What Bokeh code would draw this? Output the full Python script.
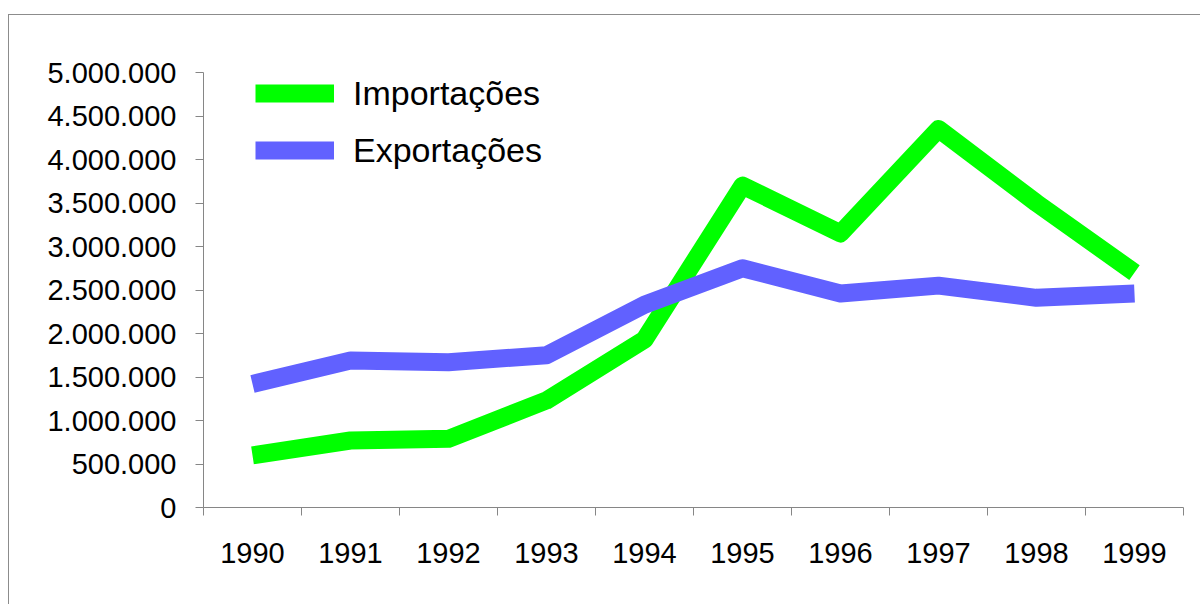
from bokeh.plotting import figure
from bokeh.models import (FactorRange, LinearAxis, FixedTicker, CustomJSTickFormatter,
                          Legend, LegendItem, Range1d)
from bokeh.embed import file_html
from bokeh.resources import INLINE

years = ["1990", "1991", "1992", "1993", "1994", "1995", "1996", "1997", "1998", "1999"]
importacoes = [600000, 770000, 790000, 1230000, 1930000, 3700000, 3150000, 4350000, 3500000, 2700000]
exportacoes = [1420000, 1690000, 1670000, 1750000, 2330000, 2750000, 2460000, 2550000, 2410000, 2460000]
y_ticks = [0, 500000, 1000000, 1500000, 2000000, 2500000, 3000000, 3500000, 4000000, 4500000, 5000000]

FONT = "Liberation Sans"
AXIS_COLOR = "#868686"

p = figure(width=1192, height=590, output_backend="svg", toolbar_location=None,
           x_range=FactorRange(*years, range_padding=0, factor_padding=0),
           y_range=Range1d(0, 5000000),
           x_axis_location=None, y_axis_location=None,
           min_border_left=194, min_border_right=18, min_border_top=57, min_border_bottom=98)
p.outline_line_color = None
p.xgrid.visible = False
p.ygrid.visible = False
p.background_fill_color = "white"
p.border_fill_color = "white"
# chart border: top and left edges visible, the rest runs off the window
p.styles = {"border-top": "1px solid #8c8c8c", "border-left": "1px solid #8c8c8c",
            "margin-left": "8px", "margin-top": "14px"}

# y axis
yax = LinearAxis(ticker=FixedTicker(ticks=y_ticks, minor_ticks=[]),
                 formatter=CustomJSTickFormatter(code="""
                     return Math.round(tick).toString().replace(/\\B(?=(\\d{3})+(?!\\d))/g, ".");
                 """))
yax.axis_line_color = AXIS_COLOR
yax.major_tick_line_color = AXIS_COLOR
yax.major_tick_in = 0
yax.major_tick_out = 8
yax.minor_tick_line_color = None
yax.major_label_standoff = 19
yax.major_label_text_font = FONT
yax.major_label_text_font_size = "29px"
yax.major_label_text_color = "black"
p.add_layout(yax, "left")

# x axis: labels at category centres, ticks at category boundaries
centers = [i + 0.5 for i in range(len(years))]
bounds = [i for i in range(len(years) + 1)]
xax = LinearAxis(ticker=FixedTicker(ticks=centers, minor_ticks=bounds),
                 formatter=CustomJSTickFormatter(args=dict(years=years), code="""
                     const i = Math.floor(tick);
                     return (i >= 0 && i < years.length) ? years[i] : "";
                 """))
xax.axis_line_color = AXIS_COLOR
xax.major_tick_line_color = None
xax.minor_tick_line_color = AXIS_COLOR
xax.minor_tick_in = 0
xax.minor_tick_out = 8
xax.major_tick_out = 8
xax.major_tick_in = 0
xax.major_label_standoff = 27
xax.major_label_text_font = FONT
xax.major_label_text_font_size = "29px"
xax.major_label_text_color = "black"
p.add_layout(xax, "below")

r_imp = p.line(years, importacoes, line_color="#00FF00", line_width=18,
               line_join="round", line_cap="butt")
r_exp = p.line(years, exportacoes, line_color="#6161FF", line_width=18,
               line_join="round", line_cap="butt")

legend = Legend(items=[LegendItem(label="Importações", renderers=[r_imp]),
                       LegendItem(label="Exportações", renderers=[r_exp])],
                location=(52, 337), orientation="vertical",
                glyph_width=79, glyph_height=40, label_height=40, spacing=17,
                padding=0, margin=0, label_standoff=19,
                border_line_color=None, background_fill_alpha=0,
                label_text_font=FONT, label_text_font_size="34px",
                label_text_color="black")
p.add_layout(legend, "center")

open("out.html", "w").write(file_html(p, INLINE))
